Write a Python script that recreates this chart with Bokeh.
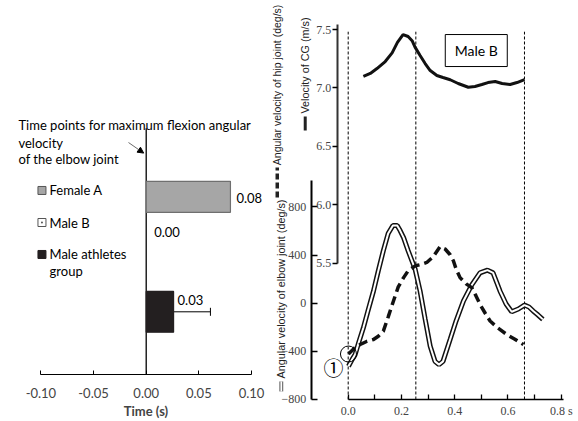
from bokeh.plotting import figure
from bokeh.models import (Range1d, LinearAxis, FixedTicker, PrintfTickFormatter,
                          Arrow, NormalHead, Whisker, TeeHead, ColumnDataSource)
from bokeh.core.properties import value
from bokeh.embed import file_html
from bokeh.resources import INLINE

# ---------------- data: left panel ----------------
groups = ["Female A", "Male B", "Male athletes group"]
group_pos = [3, 2, 1]
peak_time = [0.08, 0.00, 0.026]
peak_time_err = [0.0, 0.0, 0.035]
peak_labels = ["0.08", "0.00", "0.03"]
time_ticks = [-0.10, -0.05, 0.0, 0.05, 0.10]

# ---------------- data: right panel ----------------
event_times = [0.0, 0.254, 0.662]
cg_t = [0.057, 0.083, 0.108, 0.139, 0.165, 0.185, 0.206, 0.225, 0.240, 0.251, 0.270, 0.289,
        0.308, 0.333, 0.356, 0.383, 0.413, 0.451, 0.476, 0.502, 0.525, 0.552, 0.578, 0.608,
        0.634, 0.662]
cg_v = [7.098, 7.124, 7.166, 7.226, 7.300, 7.390, 7.457, 7.440, 7.404, 7.349, 7.277, 7.209,
        7.149, 7.106, 7.089, 7.070, 7.038, 7.006, 7.012, 7.029, 7.046, 7.055, 7.038, 7.029,
        7.046, 7.072]
hip_t = [0.001, 0.023, 0.045, 0.071, 0.095, 0.113, 0.132, 0.150, 0.170, 0.188, 0.208, 0.225,
         0.252, 0.270, 0.295, 0.319, 0.345, 0.364, 0.383, 0.395, 0.405, 0.420, 0.443, 0.464,
         0.480, 0.495, 0.514, 0.533, 0.563, 0.595, 0.626, 0.658]
hip_v = [-422, -374, -343, -316, -301, -274, -232, -115, 19, 136, 213, 269, 311, 320, 339,
         386, 470, 451, 403, 353, 286, 213, 161, 130, 61, -9, -81, -148, -207, -259, -299, -343]
elbow_t = [0.001, 0.015, 0.026, 0.041, 0.057, 0.074, 0.095, 0.113, 0.132, 0.150, 0.168,
           0.184, 0.195, 0.208, 0.225, 0.251, 0.270, 0.289, 0.308, 0.326, 0.341, 0.356,
           0.383, 0.405, 0.433, 0.464, 0.495, 0.523, 0.544, 0.570, 0.593, 0.614, 0.639,
           0.662, 0.679, 0.695, 0.713, 0.731]
elbow_v = [-524, -466, -427, -315, -204, -65, 102, 269, 437, 579, 646, 646, 604, 545, 437,
           286, 102, -132, -358, -483, -510, -483, -299, -148, 19, 152, 253, 275, 253, 102,
           -6, -71, -48, -15, -31, -65, -98, -134]
t_ticks = [0.0, 0.2, 0.4, 0.6, 0.8]
t_minor_ticks = [0.1, 0.3, 0.5, 0.7]
ang_ticks = [-800, -400, 0, 400, 800]
cg_ticks = [5.5, 6.0, 6.5, 7.0, 7.5]

SANS = "Lato"
SERIF = "Liberation Serif"
LAB = "Liberation Sans"
HALF_PI = 1.5707963

# One canvas, several scales: left panel (time s / groups), right panel (t / deg/s / m/s)
p = figure(width=578, height=421,
           x_range=Range1d(-0.13837, 0.41054),      # left panel time axis (s)
           y_range=Range1d(-982.9, 2516.4),         # right panel angular velocity (deg/s)
           output_backend="svg", toolbar_location=None,
           x_axis_location=None, y_axis_location=None, min_border=0)
p.extra_x_ranges = {"t": Range1d(-1.3058, 0.8649)}   # right panel time (s)
p.extra_y_ranges = {"grp": Range1d(-0.9078, 6.4139),  # left panel groups
                    "cg": Range1d(4.1453, 7.7482)}    # right panel CG velocity (m/s)
p.grid.visible = False
p.outline_line_color = None

# ================= left panel =================
lax = LinearAxis(x_range_name="default", y_range_name="grp", fixed_location=-0.0904,
                 ticker=FixedTicker(ticks=time_ticks, minor_ticks=[]),
                 formatter=PrintfTickFormatter(format="%.2f"), bounds=(-0.10, 0.10),
                 major_tick_in=4, major_tick_out=0, axis_line_width=1.2,
                 major_label_text_font=SANS, major_label_text_font_size="13px",
                 major_label_standoff=14, axis_label="Time (s)", axis_label_text_font=SANS,
                 axis_label_text_font_style="bold", axis_label_text_font_size="13px",
                 axis_label_standoff=1)
p.add_layout(lax, "below")

bar_src = ColumnDataSource(dict(
    y=group_pos, right=peak_time,
    h=[0.54, 0.54, 0.71],
    fill=["#a6a6a6", "white", "#231f20"], line=["#6f6f6f", None, "#231f20"],
    lab=peak_labels, dx=[6, 8, 4], dy=[1, -22, -12]))

p.segment(x0=0, y0=-0.0904, x1=0, y1=4.19, line_color="black", line_width=1.3,
          y_range_name="grp")
p.hbar(y="y", right="right", left=0, height="h", fill_color="fill", line_color="line",
       line_width=1.2, source=bar_src, y_range_name="grp")
err_src = ColumnDataSource(dict(
    y=[g for g, e in zip(group_pos, peak_time_err) if e > 0],
    lo=[v for v, e in zip(peak_time, peak_time_err) if e > 0],
    hi=[v + e for v, e in zip(peak_time, peak_time_err) if e > 0]))
p.add_layout(Whisker(source=err_src, base="y", lower="lo", upper="hi", dimension="width",
                     lower_head=None, upper_head=TeeHead(size=8, line_width=1),
                     line_width=1, line_color="black", y_range_name="grp"))
p.text(x="right", y="y", text="lab", x_offset="dx", y_offset="dy", source=bar_src,
       text_font=value(SANS), text_font_size="13px", text_baseline="middle",
       text_color="black", y_range_name="grp")

title_lines = ["Time points for maximum flexion angular", "velocity", "of the elbow joint"]
p.text(x=[-0.1213] * 3, y=[4.240, 3.944, 3.649], text=title_lines,
       text_font=value(SANS), text_font_size="13px", text_baseline="middle",
       text_color="black", y_range_name="grp")
p.add_layout(Arrow(end=NormalHead(size=6, fill_color="black", line_color="black"),
                   x_start=-0.0168, y_start=3.944, x_end=-0.0024, y_end=3.76,
                   line_width=0.8, line_color="#444444", y_range_name="grp"))

leg_y = [3.110, 2.553, 1.997]
p.scatter(x=[-0.099] * 3, y=leg_y, marker=["square", "square_dot", "square"], size=8,
          fill_color=["#a6a6a6", "white", "#231f20"],
          line_color=["#555555", "#555555", "#231f20"], line_width=1, y_range_name="grp")
p.text(x=[-0.0918] * 4, y=leg_y + [1.701], text=["Female A", "Male B", "Male athletes", "group"],
       text_font=value(SANS), text_font_size="13px", text_baseline="middle",
       text_color="black", y_range_name="grp")

# ================= right panel =================
xa = LinearAxis(x_range_name="t", y_range_name="default", fixed_location=-800,
                ticker=FixedTicker(ticks=t_ticks, minor_ticks=t_minor_ticks),
                formatter=PrintfTickFormatter(format="%.1f"),
                major_label_overrides={0.8: "0.8 s"}, bounds=(0.0, 0.808),
                major_tick_in=5, major_tick_out=0, minor_tick_in=5, minor_tick_out=0,
                axis_line_width=1.5, major_tick_line_width=1.3, minor_tick_line_width=1.3,
                major_label_text_font=SERIF, major_label_text_font_size="12px",
                major_label_standoff=5)
p.add_layout(xa, "below")

ya = LinearAxis(x_range_name="t", y_range_name="default", fixed_location=-0.1388,
                ticker=FixedTicker(ticks=ang_ticks, minor_ticks=[]), bounds=(-800, 1020),
                major_tick_in=6, major_tick_out=0, axis_line_width=2,
                major_tick_line_width=1.3, major_label_text_font=SERIF,
                major_label_text_font_size="12px", major_label_standoff=5)
p.add_layout(ya, "left")

cga = LinearAxis(x_range_name="t", y_range_name="cg", fixed_location=-0.0413,
                 ticker=FixedTicker(ticks=cg_ticks, minor_ticks=[]),
                 formatter=PrintfTickFormatter(format="%.1f"), bounds=(5.5, 7.543),
                 major_tick_out=5, major_tick_in=0, axis_line_width=2,
                 axis_line_color="#333333", major_tick_line_width=1.3,
                 major_label_text_font=SERIF, major_label_text_font_size="12px",
                 major_label_standoff=1)
p.add_layout(cga, "left")

p.segment(x0=event_times, y0=-800, x1=event_times, y1=2257, line_color="black",
          line_width=1, line_dash="3 2", x_range_name="t")
p.line(cg_t, cg_v, x_range_name="t", y_range_name="cg", line_width=3, line_color="#111111")
p.line(elbow_t, elbow_v, x_range_name="t", line_width=5, line_color="#111111")
p.line(elbow_t, elbow_v, x_range_name="t", line_width=2, line_color="white")
p.line(hip_t, hip_v, x_range_name="t", line_width=3.5, line_color="#111111", line_dash="9 5")

p.scatter(x=[hip_t[0]], y=[hip_v[0]], marker="circle", size=16, fill_color=None,
          line_color="black", line_width=1, x_range_name="t")
p.text(x=[hip_t[0]], y=[hip_v[0]], text=["①"], x_offset=-15, y_offset=13,
       text_font=value("Noto Sans CJK JP"), text_font_size="20px", text_align="center",
       text_baseline="middle", text_color="black", x_range_name="t")

p.rect(x=[0.481], y=[7.32], width=62, height=32, width_units="screen", height_units="screen",
       fill_color="white", line_color="black", line_width=1, x_range_name="t",
       y_range_name="cg")
p.text(x=[0.481], y=[7.32], text=["Male B"], x_range_name="t", y_range_name="cg",
       text_font=value(SANS), text_font_size="14px", text_align="center",
       text_baseline="middle", text_color="black")

# rotated axis titles, each with a short key of its line style
p.segment(x0=-0.2664, y0=879, x1=-0.2664, y1=1128, line_width=3.5, line_color="#222222",
          line_dash="6 3", x_range_name="t")
p.segment(x0=-0.2514, y0=-733, x1=-0.2514, y1=-650, line_width=4, line_color="#777777",
          x_range_name="t")
p.segment(x0=-0.2514, y0=-733, x1=-0.2514, y1=-650, line_width=1.5, line_color="white",
          x_range_name="t")
p.segment(x0=-0.1614, y0=1436, x1=-0.1614, y1=1552, line_width=3, line_color="#222222",
          x_range_name="t")
p.text(x=[-0.2664, -0.2514, -0.1614], y=[1148, -625, 1577],
       text=["Angular velocity of hip joint (deg/s)",
             "Angular velocity of elbow joint (deg/s)",
             "Velocity of CG (m/s)"],
       angle=HALF_PI, text_align="left", text_baseline="middle", text_font=value(LAB),
       text_font_size=["10.5px", "10.8px", "10.8px"], text_color="#222222", x_range_name="t")

open("out.html", "w").write(file_html(p, INLINE))
